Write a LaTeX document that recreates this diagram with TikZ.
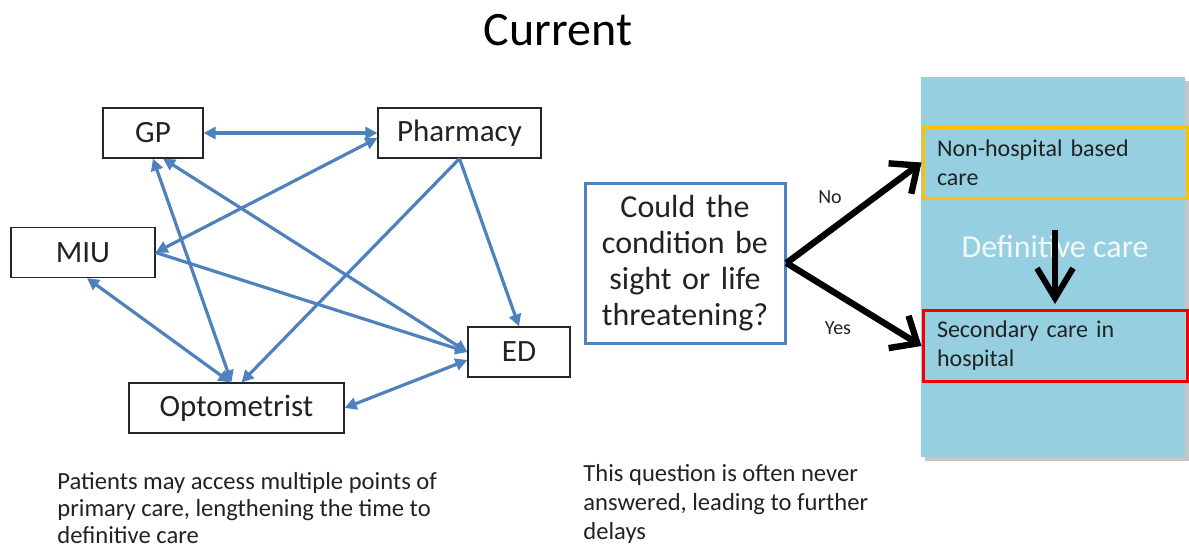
\documentclass[tikz,border=0pt]{standalone}
\usepackage{fontspec}
\setmainfont{Carlito}
\usetikzlibrary{positioning,arrows.meta,shadows}
\definecolor{linkblue}{HTML}{4F81BD}
\definecolor{aqua}{HTML}{96D0E0}
\definecolor{amber}{HTML}{FFC000}
\definecolor{alert}{HTML}{F20000}
\definecolor{ink}{HTML}{222222}

\begin{document}
\begin{tikzpicture}[
  x=0.5pt, y=-0.5pt,
  text=ink,
  place/.style={draw=black!85, line width=0.6pt, minimum height=25pt, inner sep=0pt, font=\fontsize{15.5}{18}\selectfont},
  link/.style={{Triangle[length=6pt,width=6pt]}-{Triangle[length=6pt,width=6pt]}, line width=1.6pt, draw=linkblue},
  tolink/.style={-{Triangle[length=6pt,width=6pt]}, line width=1.6pt, draw=linkblue},
  decide/.style={-{Straight Barb[length=11pt,width=19pt]}, line width=3.2pt, draw=black},
  band/.style={draw=#1, line width=1.5pt, minimum width=132pt, minimum height=35.5pt, inner xsep=7pt, inner ysep=0pt, text width=118pt, align=left, font=\fontsize{12}{14.5}\selectfont},
  note/.style={anchor=north west, inner sep=0pt, align=left, font=\fontsize{12.3}{#1}\selectfont}
]
\useasboundingbox (0,0) rectangle (1189,552);

\node[font=\fontsize{24}{28}\selectfont, text=black] (title) at (558,30) {Current};

\node[place, minimum width=50pt] (gp) at (153,133) {GP};
\node[place, minimum width=81.5pt] (pharm) at (459.5,133) {Pharmacy};
\node[place, minimum width=72pt] (miu) at (83,252.5) {MIU};
\node[place, minimum width=51pt] (ed) at (519,352) {ED};
\node[place, minimum width=107.5pt] (opt) at (236.5,408) {Optometrist};

\draw[link] (gp) -- (pharm);
\draw[link] ([yshift=-2.5pt]pharm.west) -- (miu.east);
\draw[link] (gp.south) -- ([xshift=-2.5pt]opt.north);
\draw[link] ([xshift=5pt]gp.south) -- (ed.west);
\draw[tolink] (pharm.south) -- (ed.north);
\draw[tolink] (pharm.south) -- ([xshift=2.5pt]opt.north);
\draw[tolink] (miu.east) -- (ed.west);
\draw[link] ([xshift=2pt]miu.south) -- ([xshift=-3pt]opt.north);
\draw[link] ([yshift=-4pt]ed.west) -- (opt.east);

\node[draw=linkblue, line width=1.5pt, minimum width=100pt, minimum height=80pt, inner sep=0pt, text width=96pt, align=center, font=\fontsize{16}{18}\selectfont] (q) at (685,263) {Could the\\condition be\\sight or life\\threatening?};

\node[fill=aqua, minimum width=132pt, minimum height=190pt, inner sep=0pt, drop shadow={shadow xshift=2pt, shadow yshift=-2pt, fill=black!45}] (col) at (1053,267) {};
\node[text=white!88!aqua, font=\fontsize{16}{18}\selectfont] (deflabel) at (1055,247) {Definitive care};
\node[band=amber] (nonhosp) at (1055,162.5) {Non-hospital based\\care};
\node[band=alert] (sec) at (1055,346) {Secondary care in\\hospital};

\draw[decide] (q.east) -- (nonhosp.west);
\draw[decide] (q.east) -- (sec.west);
\draw[decide, -{Straight Barb[length=15pt,width=18pt]}, line width=3pt, shorten <=15pt, shorten >=2.5pt] (nonhosp.south) -- (sec.north);
\node[font=\fontsize{10}{12}\selectfont] (no) at (830,197) {No};
\node[font=\fontsize{10}{12}\selectfont] (yes) at (838,328) {Yes};

\node[note=13.5pt] (patients) at (57,472) {Patients may access multiple points of\\primary care, lengthening the time to\\definitive care};
\node[note=14.5pt] (delays) at (583,464) {This question is often never\\answered, leading to further\\delays};
\end{tikzpicture}
\end{document}
